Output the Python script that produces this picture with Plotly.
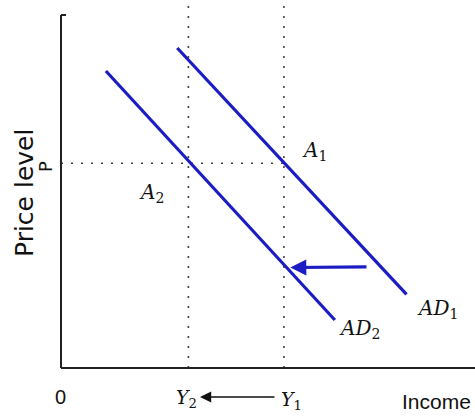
import plotly.graph_objects as go

# Data (economic units)
ad1_x = [3.65, 10.85]
ad1_y = [10.0, 2.3]
ad2_x = [1.41, 8.6]
ad2_y = [9.28, 1.5]
y1_income = 7.0
y2_income = 4.0
p_level = 6.4
shift_arrow_tail = [9.64, 3.16]
shift_arrow_head = [7.2, 3.14]

XMAX, YMAX = 13.0, 11.5
BLUE = "#1c1cc4"
DOT = "#444444"
SERIF = "DejaVu Serif"
SANS = "Liberation Sans"
PW, PH = 414.0, 368.0

fig = go.Figure()

# dotted guide lines
for xs, ys in [([y2_income, y2_income], [0, YMAX]), ([y1_income, y1_income], [0, YMAX]),
               ([0, y1_income], [p_level, p_level])]:
    fig.add_trace(go.Scatter(x=xs, y=ys, mode="lines", line=dict(color=DOT, width=1.6, dash="2px,8px"),
                             cliponaxis=False, hoverinfo="skip"))

# AD curves
fig.add_trace(go.Scatter(x=ad1_x, y=ad1_y, mode="lines", line=dict(color=BLUE, width=3.2), hoverinfo="skip"))
fig.add_trace(go.Scatter(x=ad2_x, y=ad2_y, mode="lines", line=dict(color=BLUE, width=3.2), hoverinfo="skip"))

# axes spines
top = (PH - 15) / PH
fig.add_shape(type="line", xref="paper", yref="paper", x0=0, x1=0, y0=0, y1=top, line=dict(color="#222", width=2))
fig.add_shape(type="line", xref="paper", yref="paper", x0=0, x1=5 / PW, y0=top, y1=top, line=dict(color="#222", width=2))
fig.add_shape(type="line", xref="paper", yref="paper", x0=0, x1=1, y0=0, y1=0, line=dict(color="#222", width=2))

ann = []
# shift arrow on AD2
ann.append(dict(x=shift_arrow_head[0], y=shift_arrow_head[1], ax=shift_arrow_tail[0], ay=shift_arrow_tail[1],
                axref="x", ayref="y", xref="x", yref="y", showarrow=True, arrowhead=2, arrowsize=1,
                arrowwidth=3.2, arrowcolor=BLUE, text=""))


def px(x):
    return (x - 61) / PW


def py(y):
    return (368 - y) / PH


# income arrow below axis (paper coords)
ann.append(dict(x=px(200), y=py(397), ax=76, ay=0, xref="paper", yref="paper",
                showarrow=True, arrowhead=2, arrowsize=1.4, arrowwidth=1.6, arrowcolor="#111", text=""))


def txt(x, y, t, size=19, font=SERIF, color="#111", angle=0, ref="x"):
    ann.append(dict(x=x, y=y, xref=ref, yref=("y" if ref == "x" else "paper"), text=t, showarrow=False,
                    font=dict(family=font, size=size, color=color), textangle=angle, xanchor="center",
                    yanchor="middle"))


txt(px(314), py(151), "<i>A</i><sub>1</sub>", size=20, ref="paper")
txt(px(151), py(193), "<i>A</i><sub>2</sub>", size=20, ref="paper")
txt(px(437), py(309), "<i>AD</i><sub>1</sub>", size=20, ref="paper")
txt(px(359), py(329), "<i>AD</i><sub>2</sub>", size=20, ref="paper")
txt(px(186), py(398), "<i>Y</i><sub>2</sub>", ref="paper")
txt(px(291), py(400), "<i>Y</i><sub>1</sub>", ref="paper")
txt(px(60), py(397), "0", size=20, font=SANS, ref="paper")
txt(px(436), py(401), "Income", size=21, font=SANS, ref="paper")
txt(px(25), py(193), "Price level", size=25, font="DejaVu Sans", angle=-90, ref="paper")
txt(px(45), py(167), "P", size=18, font="DejaVu Sans", angle=-90, ref="paper")

fig.update_layout(
    width=475, height=419,
    margin=dict(l=61, r=0, t=0, b=51),
    paper_bgcolor="white", plot_bgcolor="white",
    showlegend=False,
    xaxis=dict(range=[0, XMAX], visible=False, fixedrange=True),
    yaxis=dict(range=[0, YMAX], visible=False, fixedrange=True),
    annotations=ann,
)

fig.write_html("out.html", config={"displayModeBar": False},
               post_script="document.body.style.margin='0';")
